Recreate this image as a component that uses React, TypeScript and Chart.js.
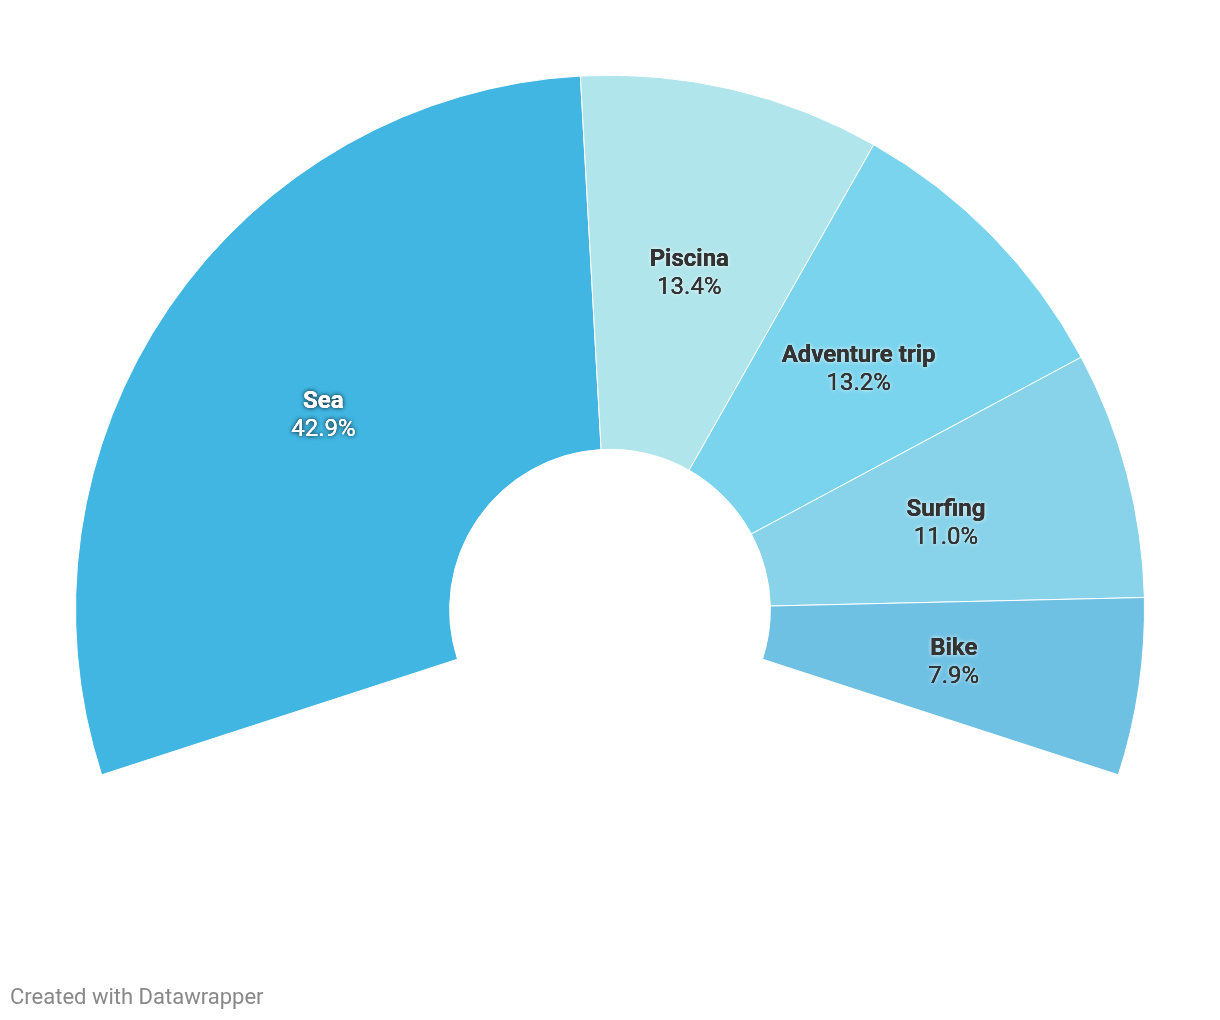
import React, { useEffect, useRef } from "react";
import { Chart, registerables } from "chart.js";

Chart.register(...registerables);

const categories = ["Sea", "Piscina", "Adventure trip", "Surfing", "Bike"];
const shares = [42.9, 13.4, 13.2, 11.0, 7.9];
const colors = ["#41b6e2", "#b0e5eb", "#7ad4ee", "#88d3ea", "#6fc1e4"];
const darkLabel = [false, true, true, true, true];

const labelPlugin = {
  id: "arcLabels",
  afterDatasetsDraw(chart: any) {
    const ctx = chart.ctx;
    const meta = chart.getDatasetMeta(0);
    meta.data.forEach((arc: any, i: number) => {
      const { x, y } = arc.tooltipPosition();
      const dark = darkLabel[i];
      const name = categories[i];
      const pct = shares[i].toFixed(1) + "%";
      ctx.save();
      ctx.textAlign = "center";
      ctx.textBaseline = "middle";
      const fill = dark ? "#333333" : "#ffffff";
      const halo = dark ? "rgba(255,255,255,0.55)" : "rgba(0,0,0,0.55)";
      const drawLine = (t: string, font: string, ty: number) => {
        ctx.font = font;
        ctx.shadowColor = halo;
        ctx.shadowBlur = 4;
        ctx.fillStyle = fill;
        ctx.fillText(t, x, ty);
        ctx.fillText(t, x, ty);
        ctx.shadowBlur = 0;
        ctx.shadowColor = "transparent";
        ctx.fillText(t, x, ty);
      };
      drawLine(name, "bold 24px Roboto", y - 11);
      drawLine(pct, "24px Roboto", y + 17);
      ctx.restore();
    });
  },
};

export default function App() {
  const ref = useRef<HTMLCanvasElement | null>(null);
  useEffect(() => {
    if (!ref.current) return;
    const chart = new Chart(ref.current, {
      type: "doughnut",
      data: {
        labels: categories,
        datasets: [
          {
            data: shares,
            backgroundColor: colors,
            borderColor: "#ffffff",
            borderWidth: 1,
            hoverOffset: 0,
          },
        ],
      },
      options: {
        responsive: false,
        animation: false,
        rotation: -108,
        circumference: 216,
        cutout: "30%",
        layout: { padding: { left: 67, right: 67, top: 66, bottom: 236 } },
        plugins: {
          legend: { display: false },
          tooltip: { enabled: false },
        },
      },
      plugins: [labelPlugin],
    });
    return () => chart.destroy();
  }, []);
  return (
    <div style={{ position: "relative", width: 1204, height: 1004 }}>
      <canvas ref={ref} width={1204} height={1004} style={{ display: "block" }} />
      <div
        style={{
          position: "absolute",
          left: 2,
          top: 978,
          fontFamily: "Roboto",
          fontSize: 22,
          lineHeight: "22px",
          color: "#888888",
          whiteSpace: "nowrap",
        }}
      >
        Created with Datawrapper
      </div>
    </div>
  );
}
